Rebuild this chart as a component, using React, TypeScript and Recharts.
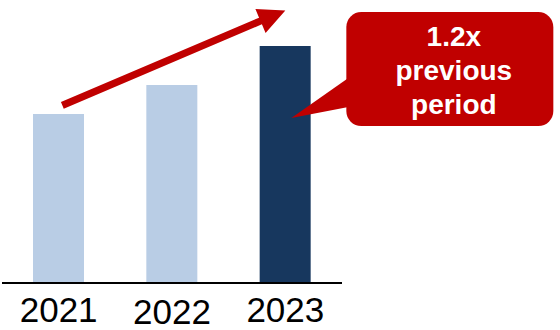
import { BarChart, Bar, XAxis, YAxis, Cell, ReferenceLine, ReferenceDot } from "recharts";

const years = ["2021", "2022", "2023"];
const revenue = [71.3, 83.5, 100];
const trendFrom = 74.3;
const trendTo = 115;
const calloutAt = 69.6;
const calloutLines = ["1.2x", "previous", "period"];

const RED = "#C00000";
const barColors = ["#B9CDE5", "#B9CDE5", "#17375E"];
const FONT = "'Liberation Sans', Arial, sans-serif";

const data = years.map((year, i) => ({ year, value: revenue[i] }));

function YearTick(props: any) {
  const { x, y, payload, index } = props;
  return (
    <text x={x} y={y} dy={index === 1 ? 41 : 39} textAnchor="middle" fontSize={35} fontFamily={FONT} fill="#000">
      {payload.value}
    </text>
  );
}

function TrendArrow(props: any) {
  const { x1: ax, y1: ay, x2, y2 } = props;
  if (ax == null) return null;
  const dx = x2 - ax, dy = y2 - ay;
  const len = Math.sqrt(dx * dx + dy * dy);
  const ux = dx / len, uy = dy / len;
  const x1 = ax + ux * 4, y1 = ay + uy * 4;
  const nx = -uy, ny = ux;
  const head = 27, hw = 13, sw = 3.6;
  const bx = x2 - ux * head, by = y2 - uy * head;
  const pts = [
    [x1 + nx * sw, y1 + ny * sw],
    [bx + nx * sw, by + ny * sw],
    [bx + nx * hw, by + ny * hw],
    [x2, y2],
    [bx - nx * hw, by - ny * hw],
    [bx - nx * sw, by - ny * sw],
    [x1 - nx * sw, y1 - ny * sw],
  ];
  return <polygon points={pts.map(p => p.join(",")).join(" ")} fill={RED} />;
}

function Callout(props: any) {
  const { cx: c, cy } = props;
  if (c == null) return null;
  const cx = c + 6;
  const left = cx + 55, right = cx + 262, top = cy - 106, bottom = cy + 8;
  const tx = (left + right) / 2 + 4;
  return (
    <g>
      <rect x={left} y={top} width={right - left} height={bottom - top} rx={15} ry={15} fill={RED} />
      <polygon points={`${cx},${cy} ${left + 2},${cy - 40} ${left + 2},${cy - 11}`} fill={RED} />
      {calloutLines.map((t, i) => (
        <text key={t} x={tx} y={top + 34 + i * 34} textAnchor="middle" fontSize={28} fontWeight={700} fontFamily={FONT} fill="#fff">
          {t}
        </text>
      ))}
    </g>
  );
}

export default function App() {
  return (
    <div style={{ position: "absolute", left: 0, top: 0, width: 560, height: 330, background: "#fff" }}>
      <BarChart width={560} height={330} data={data} margin={{ top: 46, right: 218, bottom: 0, left: 2 }}>
        <XAxis
          dataKey="year"
          height={47}
          tickLine={false}
          tickSize={0}
          tickMargin={0}
          axisLine={{ stroke: "#000", strokeWidth: 2 }}
          tick={<YearTick />}
          interval={0}
        />
        <YAxis hide domain={[0, 100]} />
        <Bar dataKey="value" barSize={51} isAnimationActive={false}>
          {data.map((d, i) => (
            <Cell key={d.year} fill={barColors[i]} />
          ))}
        </Bar>
        <ReferenceLine
          segment={[{ x: years[0], y: trendFrom }, { x: years[2], y: trendTo }]}
          ifOverflow="visible"
          shape={<TrendArrow />}
        />
        <ReferenceDot x={years[2]} y={calloutAt} ifOverflow="visible" shape={<Callout />} />
      </BarChart>
    </div>
  );
}
